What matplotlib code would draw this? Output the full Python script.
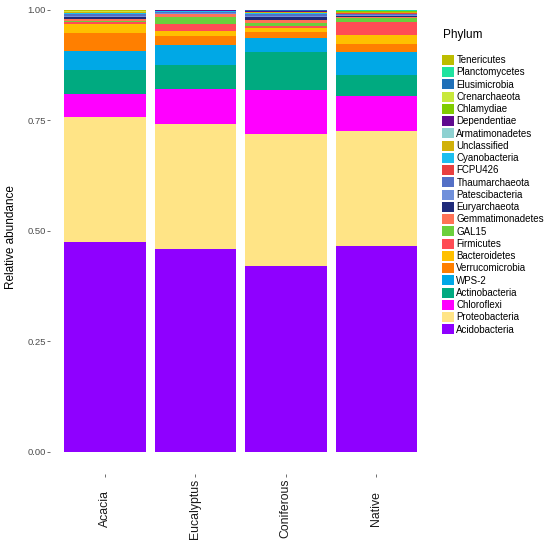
import numpy as np
import matplotlib
matplotlib.use("Agg")
import matplotlib.pyplot as plt
from matplotlib.patches import Patch

plt.rcParams['font.family'] = ['Liberation Sans', 'DejaVu Sans']

# ------------------------------------------------------------
# Data: relative abundance per site, phyla listed bottom -> top
# ------------------------------------------------------------
sites = ['Acacia', 'Eucalyptus', 'Coniferous', 'Native']

phyla = ['Acidobacteria', 'Proteobacteria', 'Chloroflexi', 'Actinobacteria',
         'WPS-2', 'Verrucomicrobia', 'Bacteroidetes', 'Firmicutes', 'GAL15',
         'Gemmatimonadetes', 'Euryarchaeota', 'Patescibacteria', 'Thaumarchaeota',
         'FCPU426', 'Cyanobacteria', 'Unclassified', 'Armatimonadetes',
         'Dependentiae', 'Chlamydiae', 'Crenarchaeota', 'Elusimicrobia',
         'Planctomycetes', 'Tenericutes']

acacia = [0.476, 0.282, 0.053, 0.053, 0.043, 0.040, 0.021, 0.004, 0.003,
          0.0055, 0.003, 0.003, 0.004, 0.001, 0.001, 0.002, 0.001,
          0.0005, 0.0005, 0.0005, 0.0005, 0.001, 0.0015]
eucalyptus = [0.458, 0.283, 0.080, 0.054, 0.046, 0.020, 0.011, 0.016, 0.017,
              0.006, 0.001, 0.002, 0.002, 0.0005, 0.0005, 0.0005, 0.0012,
              0.0002, 0.0003, 0.0002, 0.0002, 0.0003, 0.0001]
coniferous = [0.420, 0.300, 0.100, 0.085, 0.031, 0.015, 0.009, 0.004, 0.007,
              0.0065, 0.007, 0.003, 0.003, 0.001, 0.001, 0.0025, 0.001,
              0.001, 0.001, 0.0005, 0.0005, 0.0005, 0.0005]
native = [0.466, 0.260, 0.079, 0.048, 0.052, 0.019, 0.019, 0.030, 0.009,
          0.002, 0.002, 0.003, 0.003, 0.001, 0.001, 0.001, 0.001,
          0.0005, 0.0005, 0.0005, 0.0005, 0.002, 0.0]

colors = ['#8F00FF', '#FFE486', '#FF00FF', '#00AA80', '#00A8E6', '#FF7F00',
          '#FFC000', '#FF4C55', '#6BCF3C', '#FF7256', '#1F2A7A', '#7090DB',
          '#5470C6', '#E84040', '#1DBFEF', '#D1B10A', '#8ED1D1', '#5E0A8F',
          '#80CC00', '#C8E83C', '#1F70B8', '#1EE3A0', '#BDBD00']

abund = np.array([acacia, eucalyptus, coniferous, native])

# ------------------------------------------------------------
# Plot
# ------------------------------------------------------------
fig = plt.figure(figsize=(5.5, 5.45), dpi=100)
ax = fig.add_axes([0.0918, 0.1303, 0.6911, 0.8697])

x = np.arange(len(sites))
bottom = np.zeros(len(sites))
for i, name in enumerate(phyla):
    ax.bar(x, abund[:, i], bottom=bottom, width=0.9, color=colors[i],
           linewidth=0, label=name)
    bottom += abund[:, i]

ax.set_xlim(-0.6, len(sites) - 0.4)
ax.set_ylim(-0.05, 1.0226)
for s in ax.spines.values():
    s.set_visible(False)

ax.set_yticks([0, 0.25, 0.5, 0.75, 1.0])
ax.set_yticklabels(['0.00', '0.25', '0.50', '0.75', '1.00'])
ax.tick_params(axis='y', length=2.5, width=0.5, color='#333333', pad=1,
               labelsize=6.8, labelcolor='#4D4D4D')
ax.set_xticks(x)
ax.set_xticklabels(sites, rotation=90, va='center', ha='center')
ax.tick_params(axis='x', length=2.5, width=0.5, color='#333333', pad=22.5,
               labelsize=8.8, labelcolor='#1A1A1A')

ax.set_ylabel('Relative abundance', fontsize=8.5, color='black', va='center')
ax.yaxis.set_label_coords(-0.104, 0.5)

# legend, top of stack first
handles = [Patch(facecolor=colors[i], edgecolor='none', label=phyla[i])
           for i in range(len(phyla) - 1, -1, -1)]
fig.legend(handles=handles, loc='upper left',
           bbox_to_anchor=(442 / 550, 1 - 55 / 545),
           frameon=False, fontsize=7, borderpad=0, borderaxespad=0,
           handlelength=1.23, handleheight=1.18, handletextpad=0.25,
           labelspacing=0.21)
fig.text(443 / 550, 1 - 35 / 545, 'Phylum', fontsize=8.5, va='center', ha='left')

fig.savefig('out.png', dpi=100, facecolor='white')
